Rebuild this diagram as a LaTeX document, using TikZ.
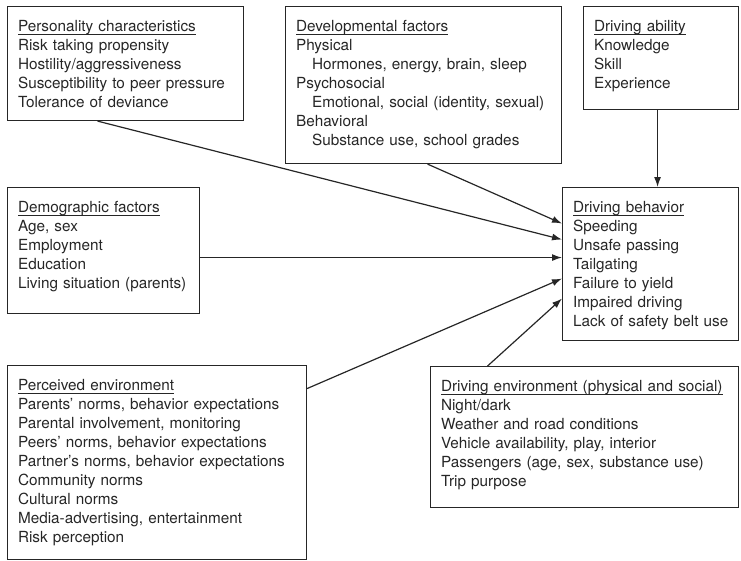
\documentclass[tikz,border=0pt]{standalone}
\usepackage{fontspec}
\setmainfont{TeX Gyre Heros}
\usepackage{tikz}
\usetikzlibrary{arrows.meta}
\newlength\hdgwd
\newcommand\hdg[1]{\settowidth\hdgwd{#1}\rlap{\rule[-3.5pt]{\hdgwd}{0.8pt}}#1}
\newcommand\ind{\hspace*{16pt}}
\tikzstyle{factor}=[draw=black!85, line width=1.1pt, anchor=north west, align=left, inner xsep=10.5pt, inner ysep=0pt, text height=25pt, text=black!85, font=\fontsize{15.3}{19}\selectfont]
\tikzstyle{flow}=[line width=1.2pt, draw=black!85, -{Latex[length=10pt,width=7pt]}]

\begin{document}
\begin{tikzpicture}[x=1pt,y=-1pt]
    \useasboundingbox (0,0) rectangle (741,560);
    \node[factor, text width=215pt, text depth=89pt] (pers) at (7,6) {\hdg{Personality characteristics}\\Risk taking propensity\\Hostility/aggressiveness\\Susceptibility to peer pressure\\Tolerance of deviance};
    \node[factor, text width=255pt, text depth=132pt] (dev) at (285,6) {\hdg{Developmental factors}\\Physical\\\ind Hormones, energy, brain, sleep\\Psychosocial\\\ind \mbox{Emotional, social (identity, sexual)}\\Behavioral\\\ind Substance use, school grades};
    \node[factor, text width=134pt, text depth=78pt] (abil) at (583,6) {\hdg{Driving ability}\\Knowledge\\Skill\\Experience};
    \node[factor, text width=171pt, text depth=101pt] (demo) at (7,187) {\hdg{Demographic factors}\\Age, sex\\Employment\\Education\\Living situation (parents)};
    \node[factor, text width=155pt, text depth=128pt] (beh) at (562,187) {\hdg{Driving behavior}\\Speeding\\Unsafe passing\\Tailgating\\Failure to yield\\Impaired driving\\\mbox{Lack of safety belt use}};
    \node[factor, text width=278pt, text depth=169pt] (perc) at (7,365) {\hdg{Perceived environment}\\Parents' norms, behavior expectations\\Parental involvement, monitoring\\Peers' norms, behavior expectations\\Partner's norms, behavior expectations\\Community norms\\Cultural norms\\Media-advertising, entertainment\\Risk perception};
    \node[factor, text width=287pt, text depth=116pt] (env) at (430,366) {\hdg{Driving environment (physical and social)}\\Night/dark\\Weather and road conditions\\Vehicle availability, play, interior\\Passengers (age, sex, substance use)\\Trip purpose};
    \draw[flow] ([xshift=-28pt]pers.south) -- ([yshift=24.5pt]beh.west);
    \draw[flow] ([xshift=4pt]dev.south) -- ([yshift=40.5pt]beh.west);
    \draw[flow] ([xshift=-3.5pt]abil.south) -- ([xshift=-3.5pt]abil.south |- beh.north);
    \draw[flow] ([yshift=-7pt]demo.east) -- ([yshift=-7pt]demo.east -| beh.west);
    \draw[flow] ([yshift=74pt]perc.east) -- ([yshift=-14.5pt]beh.west);
    \draw[flow] ([xshift=-97pt]env.north) -- ([yshift=-34.5pt]beh.west);
\end{tikzpicture}
\end{document}
